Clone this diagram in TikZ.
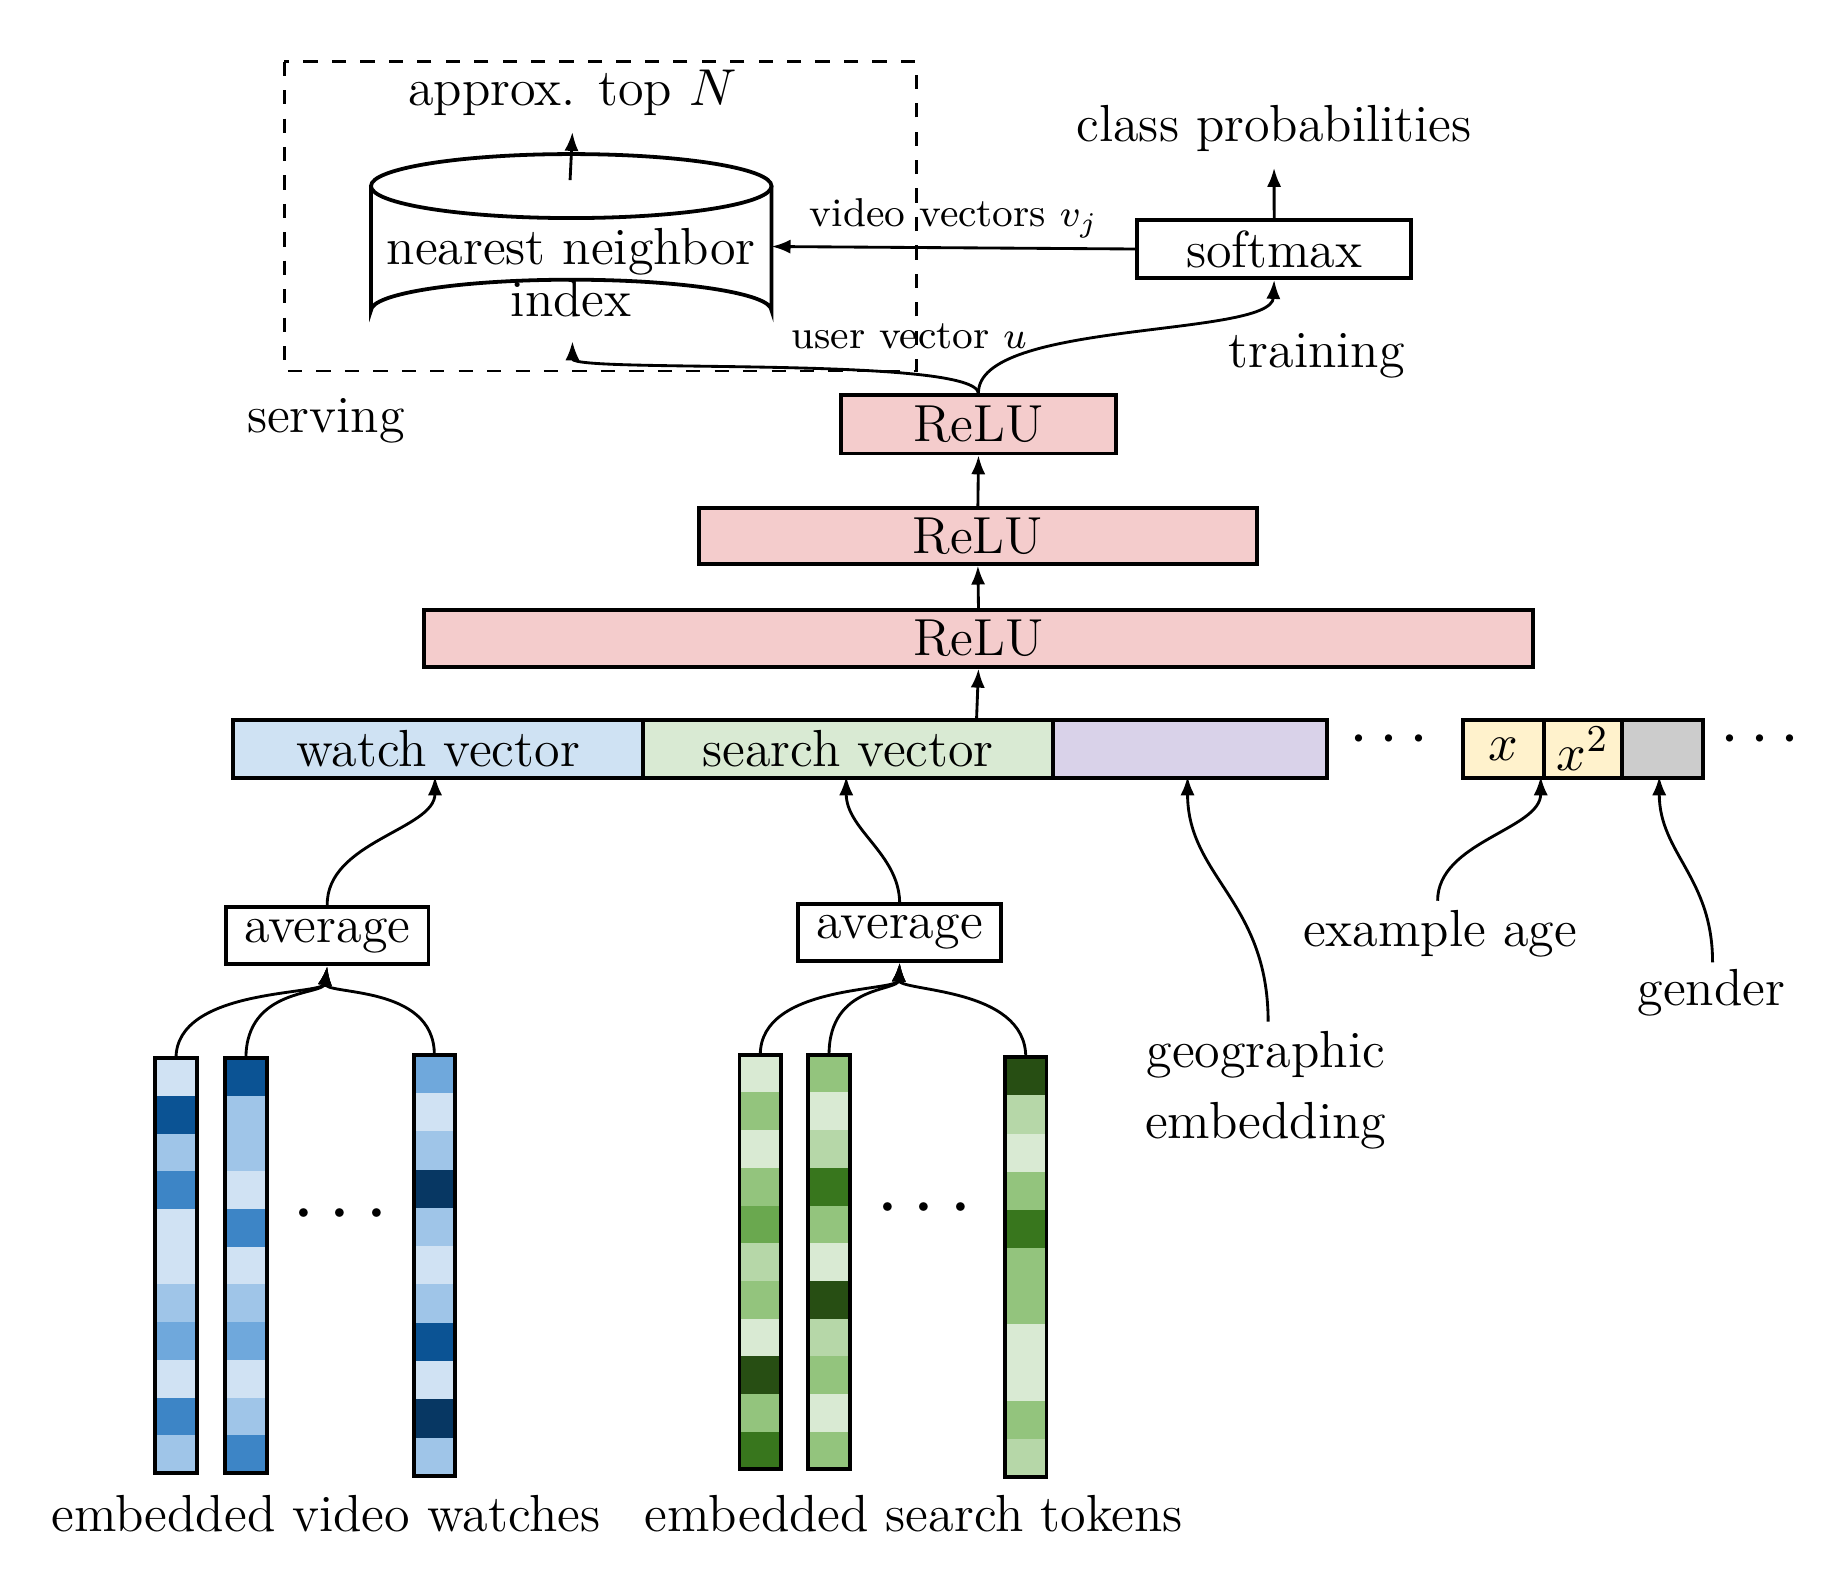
\documentclass[tikz,border=0pt]{standalone}
\usetikzlibrary{arrows.meta,calc}
\definecolor{bL}{HTML}{D0E2F3}\definecolor{bM}{HTML}{9FC5E8}\definecolor{bB}{HTML}{6FA8DC}
\definecolor{bD}{HTML}{3D85C6}\definecolor{bE}{HTML}{0B5394}\definecolor{bF}{HTML}{073763}
\definecolor{gL}{HTML}{D9EAD3}\definecolor{gA}{HTML}{B6D7A8}\definecolor{gM}{HTML}{93C47D}
\definecolor{gG}{HTML}{6AA84F}\definecolor{gD}{HTML}{38761D}\definecolor{gE}{HTML}{274E13}
\definecolor{relu}{HTML}{F4CCCC}\definecolor{watch}{HTML}{CFE2F3}\definecolor{search}{HTML}{D9EAD3}
\definecolor{geo}{HTML}{D9D2E9}\definecolor{age}{HTML}{FFF2CC}\definecolor{gen}{HTML}{CCCCCC}
\begin{document}
\begin{tikzpicture}[x=0.25pt,y=-0.25pt,
  every node/.style={font=\fontsize{11}{13}\selectfont},
  box/.style={draw,thick,minimum height=12pt,inner sep=0pt,anchor=north west},
  lbl/.style={font=\fontsize{11}{13}\selectfont},
  small/.style={font=\fontsize{8.5}{10}\selectfont},
  arr/.style={-{Latex[length=4pt,width=3pt]},semithick},
  ln/.style={semithick}]
\useasboundingbox (0,0) rectangle (1550,1327);
% serving box
\draw[dashed,semithick] (240,52) rectangle (773,313);
\node[lbl] (topn) at (483,78) {approx. top $N$};
% cylinder
\draw[thick,fill=white] (313,157) -- (313,262) arc[start angle=180,end angle=360,x radius=169,y radius=26] -- (651,157);
\draw[thick] (482,157) ellipse[x radius=169,y radius=27];
\node[align=center,lbl] (nn) at (482,230) {nearest neighbor\\[-2pt]index};
\coordinate (cyltop) at (481,152);
\coordinate (cylbot) at (483,288);
\coordinate (cylright) at (651,208);
\draw[arr] (cyltop) -- (topn.south);
\node[lbl] (cp) at (1075,108) {class probabilities};
\node[box,minimum width=57.75pt,minimum height=12.25pt] (soft) at (958,184) {};
\node[lbl] at (soft.center) {softmax};
\draw[arr] (soft.north) -- (cp.south);
\draw[arr] (soft.west) -- (cylright);
\node[small] at (805,184) {video vectors $v_j$};
\node[small] at (767,284) {user vector $u$};
\node[lbl] at (1111,300) {training};
\node[lbl] at (275,355) {serving};
% ReLUs
\node[box,fill=relu,minimum width=58pt,minimum height=12.25pt] (r1) at (708,332) {};
\node[lbl] at (r1.center) {ReLU};
\node[box,fill=relu,minimum width=117.75pt,minimum height=11.75pt] (r2) at (588,427) {};
\node[lbl] at (r2.center) {ReLU};
\node[box,fill=relu,minimum width=234pt,minimum height=12pt] (r3) at (356,513) {};
\node[lbl] at (r3.center) {ReLU};
\draw[arr] (r1.north) .. controls (824,300) and (483,315) .. (cylbot);
\draw[arr] (r1.north) .. controls (824,270) and (1073,285) .. (soft.south);
\draw[arr] (r2.north) -- (r1.south);
\draw[arr] (r3.north) -- (r2.south);
% features
\node[box,fill=watch,minimum width=86.5pt,minimum height=12.25pt] (fw) at (195,606) {};
\node[lbl] at (fw.center) {watch vector};
\node[box,fill=search,minimum width=86.5pt,minimum height=12.25pt] (fs) at (541,606) {};
\node[lbl] at (fs.center) {search vector};
\node[box,fill=geo,minimum width=57.75pt,minimum height=12.25pt] (fg) at (887,606) {};
\node[box,fill=age,minimum width=17pt,minimum height=12.25pt] (fx) at (1233,606) {};
\node[lbl] at (fx.center) {$x$};
\node[box,fill=age,minimum width=16.5pt,minimum height=12.25pt] (fx2) at (1301,606) {};
\node[lbl] at (fx2.center) {$x^2$};
\node[box,fill=gen,minimum width=17pt,minimum height=12.25pt] (fgen) at (1367,606) {};
\node[font=\fontsize{14}{14}\selectfont] at (1172,625) {$\cdots$};
\node[font=\fontsize{14}{14}\selectfont] at (1485,625) {$\cdots$};
\coordinate (fsTop) at (824,606);
\draw[arr] (fsTop) -- (r3.south);
\coordinate (wIn) at (367,655); \coordinate (sIn) at (714,655);
\coordinate (gIn) at (1002,655); \coordinate (aIn) at (1300,655); \coordinate (genIn) at (1400,655);
% averages
\node[box,minimum width=42.75pt,minimum height=12pt] (av1) at (189,764) {};
\node[lbl] at (av1.center) {average};
\node[box,minimum width=42.75pt,minimum height=12pt] (av2) at (672,761) {};
\node[lbl] at (av2.center) {average};
\draw[arr] (av1.north) .. controls (275,710) and (367,700) .. (wIn);
\draw[arr] (av2.north) .. controls (758,720) and (714,700) .. (sIn);
\coordinate (geoS) at (1070,862);
\draw[arr] (geoS) .. controls (1070,760) and (1002,740) .. (gIn);
\coordinate (ageS) at (1213,760);
\draw[arr] (ageS) .. controls (1213,710) and (1300,700) .. (aIn);
\coordinate (genS) at (1445,812);
\draw[arr] (genS) .. controls (1445,740) and (1400,720) .. (genIn);
\node[lbl] at (1215,788) {example age};
\node[lbl] at (1444,838) {gender};
\node[lbl,align=center] at (1068,920) {geographic\\[2pt]embedding};
% columns
\newcommand{\embcol}[5]{% x, ytop, cellheight, name, colors
  \foreach \c [count=\i from 0] in {#5} {
    \fill[\c] (#1,{#2+\i*#3}) rectangle (#1+35,{#2+(\i+1)*#3});
  }
  \draw[thick] (#1,#2) rectangle (#1+35,{#2+11*#3});
  \coordinate (#4) at (#1+17.5,#2);
}
\embcol{131}{893}{31.8}{c1}{bL,bE,bM,bD,bL,bL,bM,bB,bL,bD,bM}
\embcol{190}{893}{31.8}{c2}{bE,bM,bM,bL,bD,bL,bM,bB,bL,bM,bD}
\embcol{349}{890}{32.3}{c3}{bB,bL,bM,bF,bM,bL,bM,bE,bL,bF,bM}
\embcol{624}{890}{31.8}{c4}{gL,gM,gL,gM,gG,gA,gM,gL,gE,gM,gD}
\embcol{682}{890}{31.8}{c5}{gM,gL,gA,gD,gM,gL,gE,gA,gM,gL,gM}
\embcol{848}{892}{32.2}{c6}{gE,gA,gL,gM,gD,gM,gM,gL,gL,gM,gA}
\foreach \t in {c1,c2,c3} \draw[arr] (\t) .. controls ($(\t)+(0,-60)$) and (273,840) .. (av1.south);
\foreach \t in {c4,c5,c6} \draw[arr] (\t) .. controls ($(\t)+(0,-60)$) and (758,837) .. (av2.south);
\node[font=\fontsize{16}{16}\selectfont] at (287,1025) {$\cdots$};
\node[font=\fontsize{16}{16}\selectfont] at (780,1020) {$\cdots$};
\node[lbl] at (275,1277) {embedded video watches};
\node[lbl] at (771,1277) {embedded search tokens};
\end{tikzpicture}
\end{document}
